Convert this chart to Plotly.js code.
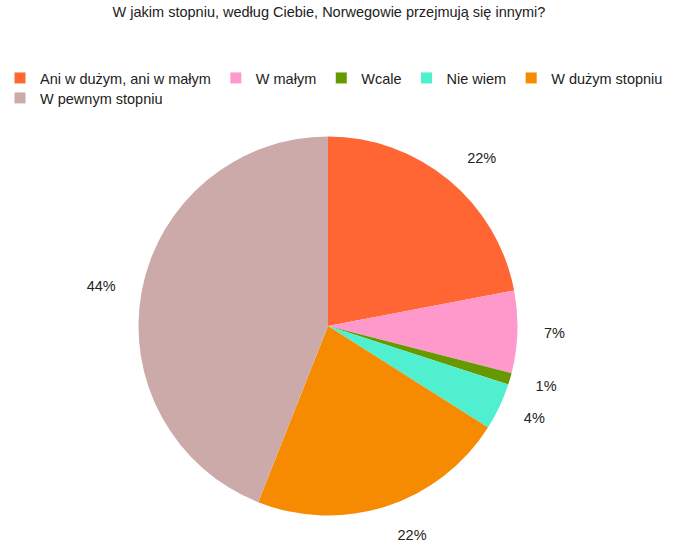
<!DOCTYPE html>
<html>
<head>
<meta charset="utf-8">
<script src="https://cdn.plot.ly/plotly-3.0.1.min.js"></script>
<style>html,body{margin:0;padding:0;background:#fff;}#chart{width:683px;height:553px;}</style>
</head>
<body>
<div id="chart"></div>
<script>
const categories = ["Ani w dużym, ani w małym", "W małym", "Wcale", "Nie wiem", "W dużym stopniu", "W pewnym stopniu"];
const values = [22, 7, 1, 4, 22, 44];
const colors = ["#FF6633", "#FF99CC", "#669900", "#4FEFD0", "#F68A00", "#CCAAAA"];
const legendRow = ["legend", "legend", "legend", "legend", "legend", "legend2"];
const chartTitle = "W jakim stopniu, według Ciebie, Norwegowie przejmują się innymi?";

const FONT = "Liberation Sans, Arial, sans-serif";
const TXT = "#222";

// the pie itself
const pie = {
  type: "pie",
  labels: categories,
  values: values,
  marker: {colors: colors, line: {width: 0}},
  sort: false,
  direction: "clockwise",
  rotation: 0,
  textinfo: "none",
  showlegend: false,
  hoverinfo: "label+percent",
  domain: {x: [0.20278, 0.75769], y: [0.05307, 0.94693]}
};

// transparent, slightly larger copy carrying the outside percent labels
const labelRing = {
  type: "pie",
  labels: categories,
  values: values,
  marker: {colors: categories.map(() => "rgba(0,0,0,0)"), line: {width: 0}},
  sort: false,
  direction: "clockwise",
  rotation: 0,
  texttemplate: "%{percent:.0%}",
  textposition: "outside",
  outsidetextfont: {family: FONT, size: 14.5, color: TXT},
  showlegend: false,
  hoverinfo: "skip",
  domain: {x: [0.16984, 0.79063], y: [0, 1]}
};

// legend entries (one per category), split over two legend rows
const legendTraces = categories.map((c, i) => ({
  type: "scatter",
  mode: "markers",
  x: [null], y: [null],
  name: c,
  legend: legendRow[i],
  marker: {symbol: "square", size: 11, color: colors[i]},
  hoverinfo: "skip"
}));

const legendCommon = {orientation: "h", xanchor: "left", yanchor: "top",
  font: {family: FONT, size: 14.5, color: TXT}, bgcolor: "rgba(0,0,0,0)", borderwidth: 0,
  traceorder: "normal", itemclick: false, itemdoubleclick: false};

const layout = {
  width: 683, height: 553,
  margin: {l: 0, r: 0, t: 114, b: 15},
  paper_bgcolor: "#fff",
  plot_bgcolor: "#fff",
  font: {family: FONT, size: 14.5, color: TXT},
  title: {text: chartTitle, xref: "paper", x: 0.4817, xanchor: "center", yref: "container", y: 0.978, yanchor: "middle",
          font: {family: FONT, size: 14.5, color: TXT}},
  xaxis: {visible: false},
  yaxis: {visible: false},
  showlegend: true,
  legend: Object.assign({}, legendCommon, {x: 0, y: 1.1226}),
  legend2: Object.assign({}, legendCommon, {x: 0, y: 1.0755})
};

Plotly.newPlot("chart", [pie, labelRing].concat(legendTraces), layout, {displayModeBar: false, staticPlot: true});
</script>
</body>
</html>
